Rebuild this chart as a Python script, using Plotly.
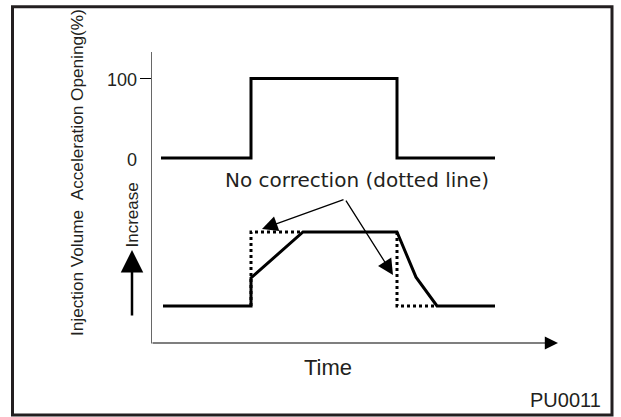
import plotly.graph_objects as go

W, H = 621, 417

# ---------------- data ----------------
# time in arbitrary units
time_accel = [1.0, 10.0, 10.0, 24.6, 24.6, 34.4]
accel_opening = [0, 0, 100, 100, 0, 0]          # %

time_inj = [1.2, 10.0, 10.0, 15.2, 24.6, 26.5, 28.6, 34.4]
inj_corrected = [1.0, 1.0, 1.76, 3.0, 3.0, 1.78, 1.0, 1.0]   # arbitrary units

time_nocorr = [10.0, 10.0, 15.2, None, 24.6, 24.6, 28.6]
inj_nocorr = [1.0, 3.0, 3.0, None, 3.0, 1.0, 1.0]

accel_tick_vals = [0, 100]
accel_tick_text = ["0", "100"]
accel_tick_marks = [100]

callout_source = (19.4, 3.89)
callout_target_t = [11.1, 24.2]
callout_target_v = [3.08, 1.84]

time_axis_end = 40.7

# ---------------- helpers (layout only) ----------------
def px_x(x):
    return x / W

def px_y(y):
    return 1 - y / H

def domain_for(v0, p0, v1, p1, rng):
    s = (p1 - p0) / (v1 - v0)
    lo = p0 + (rng[0] - v0) * s
    hi = p0 + (rng[1] - v0) * s
    return [px_y(lo), px_y(hi)]

INK = "#231f20"
ARIAL = "Liberation Sans, Arial, sans-serif"

x_range = [0, 41]
y1_range = [-5, 130]
y2_range = [0, 4.6]

fig = go.Figure()

fig.add_trace(go.Scatter(x=time_accel, y=accel_opening, mode="lines",
                         line=dict(color="black", width=3), xaxis="x", yaxis="y",
                         hoverinfo="skip"))
fig.add_trace(go.Scatter(x=time_nocorr, y=inj_nocorr, mode="lines",
                         line=dict(color="black", width=3, dash="dot"),
                         xaxis="x", yaxis="y2", connectgaps=False, hoverinfo="skip"))
fig.add_trace(go.Scatter(x=time_inj, y=inj_corrected, mode="lines",
                         line=dict(color="black", width=3), xaxis="x", yaxis="y2",
                         hoverinfo="skip"))


def label(x, y, text, family, size, angle=0):
    return dict(x=px_x(x), y=px_y(y), xref="paper", yref="paper",
                xanchor="center", yanchor="middle", text=text, textangle=angle,
                showarrow=False, font=dict(family=family, size=size, color=INK))


annotations = []
# tick labels
for v, t in zip(accel_tick_vals, accel_tick_text):
    annotations.append(dict(x=px_x(138.5), xref="paper", xanchor="right",
                            y=v, yref="y", yanchor="middle", yshift=-2,
                            text=t, showarrow=False,
                            font=dict(family=ARIAL, size=18, color=INK)))
# axis title (rotated)
annotations.append(label(77, 173, "Injection Volume\u00a0\u00a0Acceleration Opening(%)",
                         ARIAL, 17.2, -90))
annotations.append(label(131.5, 215, "Increase", ARIAL, 17, -90))
# "Increase" arrow
annotations.append(dict(x=px_x(132), y=px_y(250), xref="paper", yref="paper",
                        ax=0, ay=67, axref="pixel", ayref="pixel", text="",
                        showarrow=True, arrowhead=2, arrowsize=1.8, arrowwidth=2.5,
                        arrowcolor="black", standoff=0))
# time axis arrow
annotations.append(dict(x=time_axis_end, y=0, xref="x", yref="y2",
                        ax=0, ay=0, axref="x", ayref="y2", text="",
                        showarrow=True, arrowhead=2, arrowsize=2.2, arrowwidth=1.2,
                        arrowcolor="black", standoff=0))
# callout arrows
for t, v in zip(callout_target_t, callout_target_v):
    annotations.append(dict(x=t, y=v, xref="x", yref="y2",
                            ax=callout_source[0], ay=callout_source[1],
                            axref="x", ayref="y2", text="",
                            showarrow=True, arrowhead=2, arrowsize=2.4, arrowwidth=1.3,
                            arrowcolor="black", standoff=0))
annotations.append(label(356.5, 180, "No correction (dotted line)", "DejaVu Sans", 20))
annotations.append(label(327.5, 367, "Time", ARIAL, 22))
annotations.append(label(565, 400, "PU0011", ARIAL, 20))

shapes = []
# outer frame
shapes.append(dict(type="rect", xref="paper", yref="paper",
                   x0=px_x(12.5), x1=px_x(612), y0=px_y(6.7), y1=px_y(415),
                   line=dict(color=INK, width=3)))
# vertical axis line
shapes.append(dict(type="line", xref="x", yref="paper", x0=0, x1=0,
                   y0=px_y(343.5), y1=px_y(52), line=dict(color="black", width=1.2)))
# tick marks
for v in accel_tick_marks:
    shapes.append(dict(type="line", xref="paper", yref="y",
                       x0=px_x(140), x1=px_x(151), y0=v, y1=v,
                       line=dict(color="black", width=1.2)))

fig.update_layout(
    width=W, height=H,
    margin=dict(l=0, r=0, t=0, b=0),
    paper_bgcolor="white", plot_bgcolor="rgba(0,0,0,0)",
    showlegend=False,
    xaxis=dict(domain=[px_x(151), px_x(151) + (px_x(558) - px_x(151)) * x_range[1] / time_axis_end],
               range=x_range, visible=False, fixedrange=True),
    yaxis=dict(domain=domain_for(0, 158, 100, 78.5, y1_range), range=y1_range,
               visible=False, anchor="x", fixedrange=True),
    yaxis2=dict(domain=domain_for(0, 343, 1, 306, y2_range), range=y2_range,
                visible=False, anchor="x", fixedrange=True),
    annotations=annotations,
    shapes=shapes,
)

fig.write_html("out.html", config={"displayModeBar": False, "staticPlot": True},
               post_script="document.body.style.margin='0px';document.body.style.padding='0px';")
